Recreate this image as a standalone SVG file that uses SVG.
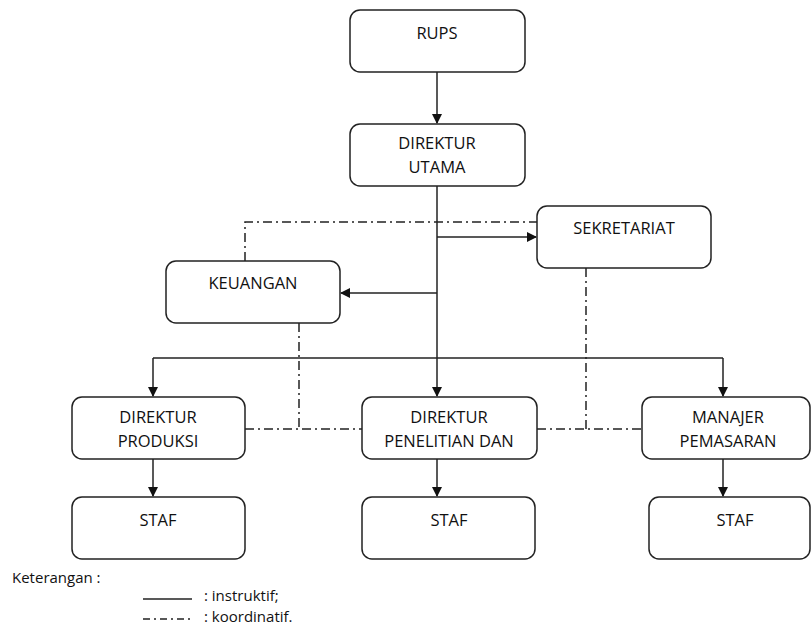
<svg xmlns="http://www.w3.org/2000/svg" width="811" height="626" viewBox="0 0 811 626">
<style>
.box{fill:#fff;stroke:#222;stroke-width:1.5}
.t{font-family:"Open Sans","Liberation Sans",sans-serif;font-size:16.5px;fill:#111;text-anchor:middle}
.l{font-family:"Open Sans","Liberation Sans",sans-serif;font-size:15px;fill:#111}
.s{fill:none;stroke:#222;stroke-width:1.5}
.d{fill:none;stroke:#222;stroke-width:1.5;stroke-dasharray:9 4 2 4}
</style>
<defs>
<marker id="ah" markerWidth="10" markerHeight="10" refX="9" refY="5" orient="auto" markerUnits="userSpaceOnUse">
<path d="M0,0 L10,5 L0,10 Z" fill="#111"/>
</marker>
</defs>
<rect width="811" height="626" fill="#fff"/>
<g id="connectors">
<line class="s" x1="437" y1="72" x2="437" y2="123" marker-end="url(#ah)"/>
<line class="s" x1="437" y1="186" x2="437" y2="396" marker-end="url(#ah)"/>
<line class="s" x1="437" y1="237" x2="536" y2="237" marker-end="url(#ah)"/>
<line class="s" x1="437" y1="293" x2="341" y2="293" marker-end="url(#ah)"/>
<line class="s" x1="153" y1="358" x2="723" y2="358"/>
<line class="s" x1="153" y1="358" x2="153" y2="396" marker-end="url(#ah)"/>
<line class="s" x1="723" y1="358" x2="723" y2="396" marker-end="url(#ah)"/>
<line class="s" x1="153" y1="459" x2="153" y2="496" marker-end="url(#ah)"/>
<line class="s" x1="437" y1="459" x2="437" y2="496" marker-end="url(#ah)"/>
<line class="s" x1="723" y1="459" x2="723" y2="496" marker-end="url(#ah)"/>
<polyline class="d" points="245,261 245,222 537,222"/>
<polyline class="d" points="299,323 299,429"/>
<line class="d" x1="245" y1="429" x2="362" y2="429"/>
<polyline class="d" points="586,268 586,429"/>
<line class="d" x1="537" y1="429" x2="642" y2="429"/>
</g>
<g id="rups"><rect class="box" x="350" y="10" width="175" height="62" rx="10"/><text class="t" x="437" y="39">RUPS</text></g>
<g id="dirut"><rect class="box" x="350" y="124" width="175" height="62" rx="10"/><text class="t" x="437" y="149">DIREKTUR</text><text class="t" x="437" y="173">UTAMA</text></g>
<g id="sekretariat"><rect class="box" x="537" y="206" width="174" height="62" rx="10"/><text class="t" x="624" y="234">SEKRETARIAT</text></g>
<g id="keuangan"><rect class="box" x="166" y="261" width="174" height="62" rx="10"/><text class="t" x="253" y="289">KEUANGAN</text></g>
<g id="produksi"><rect class="box" x="72" y="397" width="173" height="62" rx="10"/><text class="t" x="158" y="423">DIREKTUR</text><text class="t" x="158" y="447">PRODUKSI</text></g>
<g id="penelitian"><rect class="box" x="362" y="397" width="175" height="62" rx="10"/><text class="t" x="449" y="423">DIREKTUR</text><text class="t" x="449" y="447">PENELITIAN DAN</text></g>
<g id="pemasaran"><rect class="box" x="642" y="397" width="168" height="62" rx="10"/><text class="t" x="728" y="423">MANAJER</text><text class="t" x="728" y="447">PEMASARAN</text></g>
<g id="staf1"><rect class="box" x="72" y="497" width="173" height="62" rx="10"/><text class="t" x="158" y="526">STAF</text></g>
<g id="staf2"><rect class="box" x="362" y="497" width="173" height="62" rx="10"/><text class="t" x="449" y="526">STAF</text></g>
<g id="staf3"><rect class="box" x="649" y="497" width="161" height="62" rx="10"/><text class="t" x="735" y="526">STAF</text></g>
<g id="legend">
<text class="l" x="12" y="583">Keterangan :</text>
<line class="s" x1="143" y1="599" x2="192" y2="599"/>
<text class="l" x="204" y="601">: instruktif;</text>
<line class="d" x1="143" y1="619" x2="192" y2="619" style="stroke-dasharray:7 4 2 4"/>
<text class="l" x="204" y="622">: koordinatif.</text>
</g>
</svg>
